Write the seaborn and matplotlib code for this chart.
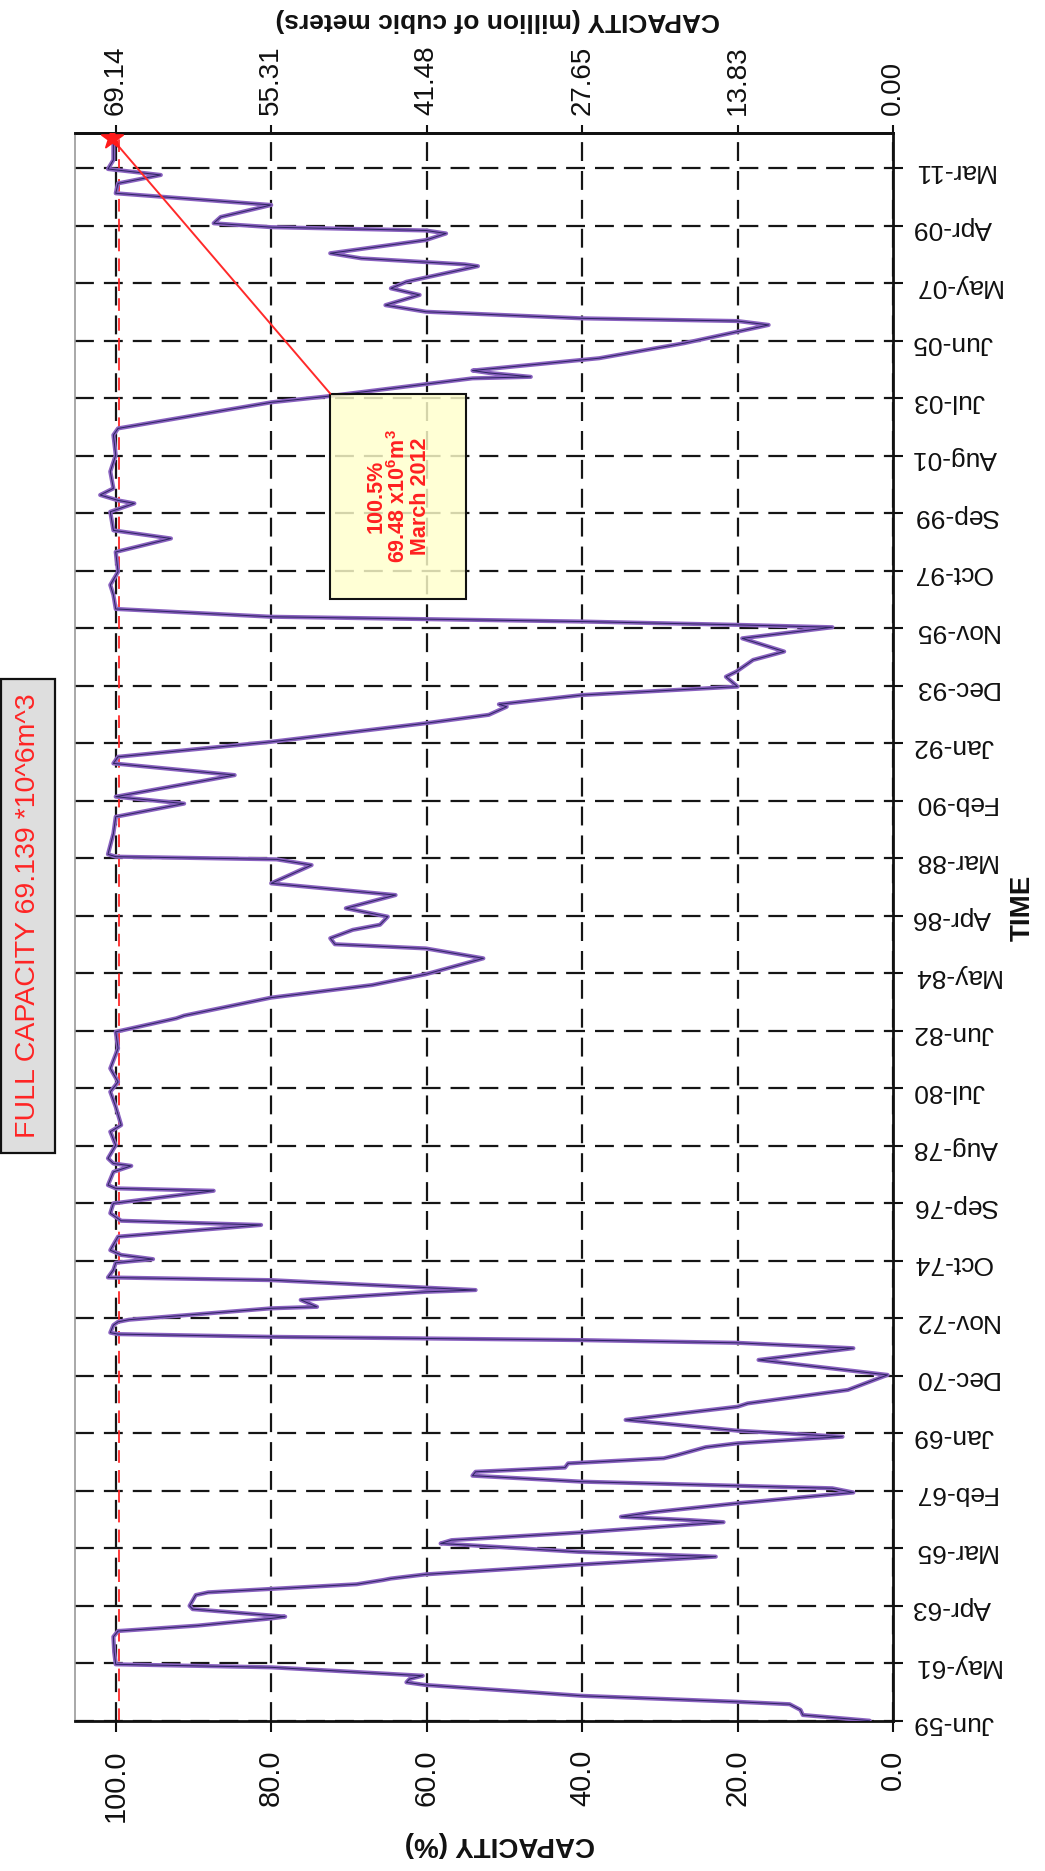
import matplotlib
matplotlib.use("Agg")
import matplotlib.pyplot as plt
from matplotlib.patches import Rectangle
import seaborn as sns
import pandas as pd

# ---- data -----------------------------------------------------------------
# time as decimal year (year + (month-1)/12), storage as % of full capacity
time_yr = [
    1959.41, 1959.60, 1959.77, 1959.96, 1960.04, 1960.24, 1960.60, 1960.69, 1960.80, 1960.91,
    1961.19, 1961.29, 1961.70, 1962.21, 1962.40, 1962.58, 1962.82, 1962.88, 1963.13, 1963.24,
    1963.60, 1963.69, 1963.96, 1964.10, 1964.15, 1964.29, 1964.62, 1964.88, 1965.04, 1965.32,
    1965.43, 1965.69, 1966.03, 1966.10, 1966.21, 1966.36, 1966.66, 1967.02, 1967.16, 1967.38,
    1967.58, 1967.71, 1967.85, 1967.99, 1968.16, 1968.25, 1968.53, 1968.66, 1968.88, 1969.08,
    1969.44, 1969.88, 1969.99, 1970.44, 1970.94, 1971.44, 1971.83, 1972.01, 1972.10, 1972.21,
    1972.30, 1972.35, 1972.60, 1972.71, 1972.78, 1973.16, 1973.21, 1973.44, 1973.71, 1973.77,
    1974.10, 1974.19, 1974.44, 1974.68, 1974.80, 1974.94, 1975.10, 1975.55, 1975.94, 1976.08,
    1976.33, 1976.66, 1977.08, 1977.16, 1977.27, 1977.71, 1977.91, 1977.99, 1978.16, 1978.60,
    1979.05, 1979.27, 1979.88, 1980.38, 1980.71, 1981.16, 1981.83, 1982.38, 1982.83, 1982.92,
    1983.52, 1983.94, 1984.30, 1984.83, 1985.16, 1985.30, 1985.50, 1985.78, 1985.95, 1986.22,
    1986.50, 1986.94, 1987.33, 1987.94, 1988.13, 1988.22, 1988.30, 1988.99, 1989.55, 1989.99,
    1990.22, 1990.94, 1991.33, 1991.55, 1992.05, 1992.67, 1992.95, 1993.22, 1993.30, 1993.61,
    1993.89, 1994.22, 1994.40, 1994.78, 1995.06, 1995.50, 1995.87, 1995.95, 1996.06, 1996.22,
    1996.48, 1996.95, 1997.28, 1997.72, 1998.38, 1998.83, 1999.10, 1999.72, 2000.00, 2000.10,
    2000.28, 2000.50, 2001.06, 2001.61, 2002.28, 2002.50, 2002.95, 2003.37, 2003.56, 2004.17,
    2004.22, 2004.35, 2004.43, 2004.84, 2005.34, 2005.95, 2006.08, 2006.17, 2006.39, 2006.61,
    2006.95, 2007.17, 2007.39, 2007.91, 2007.97, 2008.17, 2008.34, 2008.78, 2009.00, 2009.10,
    2009.21, 2009.34, 2009.55, 2009.95, 2010.34, 2010.67, 2010.95, 2011.12, 2011.15, 2011.45,
    2012.12, 2012.17,
]
capacity_pct = [
    3.0, 11.6, 11.9, 13.3, 20.0, 40.0, 60.1, 62.6, 62.2, 60.5,
    80.0, 100.0, 100.2, 100.3, 99.7, 89.5, 80.0, 78.2, 90.1, 90.5,
    89.7, 88.1, 69.0, 65.6, 64.6, 60.1, 40.0, 22.8, 40.5, 58.2,
    56.8, 40.0, 21.8, 26.2, 35.0, 31.0, 20.0, 5.1, 7.8, 40.0,
    54.1, 53.7, 42.2, 41.8, 29.5, 28.0, 24.1, 20.0, 6.5, 20.0,
    34.4, 20.0, 18.7, 5.8, 0.7, 17.3, 5.1, 20.0, 40.0, 80.0,
    99.7, 100.7, 100.3, 99.7, 98.3, 80.0, 74.1, 76.2, 60.1, 53.7,
    80.0, 101.0, 100.3, 100.0, 95.2, 99.3, 100.7, 99.7, 81.3, 99.3,
    100.7, 100.3, 87.4, 100.0, 101.0, 100.3, 98.0, 100.3, 101.0, 100.0,
    100.7, 99.3, 100.0, 100.7, 99.7, 100.7, 99.7, 100.0, 92.2, 91.2,
    80.0, 67.0, 60.1, 52.7, 60.1, 71.8, 72.4, 69.5, 66.0, 65.0,
    70.4, 64.0, 80.0, 74.8, 79.3, 100.0, 101.0, 100.3, 100.0, 91.2,
    100.0, 84.7, 100.3, 99.7, 80.0, 60.1, 52.0, 49.7, 50.7, 40.0,
    20.0, 21.5, 20.1, 18.0, 14.0, 19.4, 7.8, 20.0, 40.0, 80.0,
    100.0, 100.3, 100.7, 99.7, 100.0, 92.9, 100.3, 100.7, 97.6, 99.7,
    102.0, 100.3, 100.7, 100.0, 100.3, 99.7, 89.5, 80.0, 73.1, 54.1,
    46.6, 52.0, 54.1, 37.8, 26.9, 16.0, 20.0, 40.0, 60.1, 65.3,
    60.9, 64.6, 62.6, 53.4, 55.1, 68.4, 72.4, 60.1, 57.5, 60.1,
    80.0, 87.4, 86.5, 80.0, 100.0, 99.7, 94.2, 100.0, 101.0, 100.3,
    100.3, 100.5,
]

pct_ticks = [100, 80, 60, 40, 20, 0]
volume_labels = ["69.14", "55.31", "41.48", "27.65", "13.83", "0.00"]
time_labels = [
    "Jun-59", "May-61", "Apr-63", "Mar-65", "Feb-67", "Jan-69", "Dec-70",
    "Nov-72", "Oct-74", "Sep-76", "Aug-78", "Jul-80", "Jun-82", "May-84",
    "Apr-86", "Mar-88", "Feb-90", "Jan-92", "Dec-93", "Nov-95", "Oct-97",
    "Sep-99", "Aug-01", "Jul-03", "Jun-05", "May-07", "Apr-09", "Mar-11",
]
full_capacity_mcm = 69.139
full_line_pct = 99.6
latest_time = [2012.17]
latest_pct = [100.5]
latest_text = "100.5%\n69.48 x10$^\\mathbf{6}$m$^\\mathbf{3}$\nMarch 2012"

MONTHS = ["Jan", "Feb", "Mar", "Apr", "May", "Jun",
          "Jul", "Aug", "Sep", "Oct", "Nov", "Dec"]


def label_to_year(lbl):
    mon, yy = lbl.split("-")
    yy = int(yy)
    year = 1900 + yy if yy >= 50 else 2000 + yy
    return year + MONTHS.index(mon) / 12.0


time_ticks = [label_to_year(s) for s in time_labels]
df = pd.DataFrame({"time": time_yr, "capacity": capacity_pct})

# ---- style ----------------------------------------------------------------
sns.set_theme(style="white")
plt.rcParams["font.family"] = ["Liberation Sans", "DejaVu Sans"]
plt.rcParams["mathtext.fontset"] = "custom"
plt.rcParams["mathtext.rm"] = "Liberation Sans"
plt.rcParams["mathtext.bf"] = "Liberation Sans:bold"

W, H = 1045, 1871
fig = plt.figure(figsize=(W / 100, H / 100), dpi=100)
fig.patch.set_facecolor("white")
ax = fig.add_axes([75 / W, 1 - 1720.5 / H, 818 / W, 1587.5 / H])
ax.set_facecolor("white")

ax.set_xlim(105.24, 0)
ax.set_ylim(time_ticks[0], 2012.35)

# grid
ax.set_axisbelow(True)
ax.grid(True, color="#151515", linewidth=1.6, linestyle=(0, (8.5, 4.5)))

# full-capacity reference line
ax.axvline(full_line_pct, color="#ff2a2a", linewidth=1.3,
           linestyle=(0, (7, 4)), zorder=1.8)

# storage series: purple body with a dark core
sns.lineplot(data=df, x="capacity", y="time", sort=False, estimator=None,
             orient="y", color="#8a62c0", linewidth=3.0, ax=ax, zorder=3)
sns.lineplot(data=df, x="capacity", y="time", sort=False, estimator=None,
             orient="y", color="#2c2560", linewidth=0.7, ax=ax, zorder=3.1)

# latest reading callout
box_left, box_right = 72.4, 54.9
box_bottom, box_top = 1996.8, 2003.66
ax.add_patch(Rectangle((box_right, box_bottom), box_left - box_right,
                       box_top - box_bottom, facecolor=(1.0, 1.0, 0.80, 0.82),
                       edgecolor="#111111", linewidth=1.5, zorder=4))
ax.text((box_left + box_right) / 2, (box_bottom + box_top) / 2, latest_text,
        rotation=90, ha="center", va="center", multialignment="center",
        color="#ff2020", fontsize=15.5, fontweight="bold", linespacing=1.0,
        zorder=5)
ax.plot([box_left, latest_pct[0]], [box_top, latest_time[0]],
        color="#ff2a2a", linewidth=1.4, zorder=5)
sns.scatterplot(x=latest_pct, y=latest_time, marker="*", s=260,
                color="#ff1a1a", edgecolor="#ff1a1a", ax=ax, zorder=6,
                legend=False)

# axes: capacity (%) along the bottom, time on the right
ax.set_xticks(pct_ticks, labels=[f"{p:.1f}" for p in pct_ticks])
ax.tick_params(axis="x", bottom=True, top=False, direction="out", length=8,
               width=1.5, pad=13, labelsize=21, labelrotation=90,
               colors="#111111")
ax.yaxis.tick_right()
ax.set_yticks(time_ticks, labels=time_labels)
ax.tick_params(axis="y", right=True, left=False, direction="out", length=7,
               width=1.5, pad=7, labelsize=19, labelrotation=180,
               colors="#111111")
for lbl in ax.get_yticklabels():
    lbl.set_ha("left")

ax.set_xlabel("")
ax.set_ylabel("")
for side in ("top", "right", "bottom"):
    ax.spines[side].set_color("#111111")
    ax.spines[side].set_linewidth(2.0)
ax.spines["left"].set_color("#9a9a9a")
ax.spines["left"].set_linewidth(1.2)

# volume axis along the top
secax = ax.secondary_xaxis(
    "top",
    functions=(lambda p: p * full_capacity_mcm / 100.0,
               lambda m: m * 100.0 / full_capacity_mcm))
secax.set_xticks([float(v) for v in volume_labels], labels=volume_labels)
secax.tick_params(direction="out", length=6, width=1.5, pad=7, labelsize=20,
                  labelrotation=90, colors="#111111")
secax.spines["top"].set_linewidth(2.0)
secax.spines["top"].set_color("#111111")

# axis titles
ax.text((500 - 75) / 818, (1720.5 - 1844) / 1587.5, "CAPACITY (%)",
        transform=ax.transAxes, rotation=180, ha="center", va="center",
        fontsize=20, fontweight="bold", color="#111111")
ax.text((498 - 75) / 818, (1720.5 - 20) / 1587.5,
        "CAPACITY (million of cubic meters)", transform=ax.transAxes,
        rotation=180, ha="center", va="center", fontsize=19,
        fontweight="bold", color="#111111")
ax.text((1023 - 75) / 818, (1720.5 - 908) / 1587.5, "TIME",
        transform=ax.transAxes, rotation=90, ha="center", va="center",
        fontsize=20, fontweight="bold", color="#111111")

# full-capacity note
fig.text(28 / W, 1 - 916 / H, "FULL CAPACITY 69.139 *10^6m^3", rotation=90,
         ha="center", va="center", fontsize=20.5, color="#ff2424",
         bbox=dict(boxstyle="square,pad=0.5", facecolor="#dedede",
                   edgecolor="#111111", linewidth=1.6))

fig.savefig("out.png", dpi=100, facecolor="white")
